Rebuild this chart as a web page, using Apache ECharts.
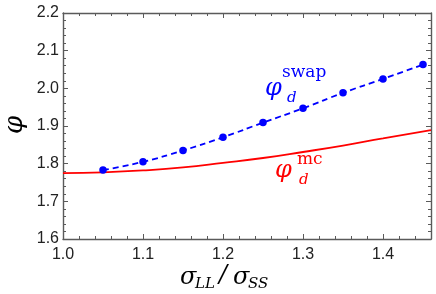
<!DOCTYPE html>
<html><head><meta charset="utf-8">
<script src="https://cdn.jsdelivr.net/npm/echarts@6/dist/echarts.min.js"></script>
<style>html,body{margin:0;padding:0;background:#fff}#c{width:436px;height:294px}</style>
</head><body><div id="c"></div>
<script>
const swapX = [1.05, 1.10, 1.15, 1.20, 1.25, 1.30, 1.35, 1.40, 1.45];
const swapY = [1.783, 1.805, 1.835, 1.870, 1.909, 1.947, 1.988, 2.025, 2.063];
const mcX = [1.00, 1.05, 1.10, 1.15, 1.20, 1.25, 1.30, 1.35, 1.40, 1.46];
const mcY = [1.775, 1.777, 1.782, 1.790, 1.802, 1.815, 1.831, 1.848, 1.867, 1.889];
const xTicks = [1.0, 1.1, 1.2, 1.3, 1.4];
const yTicks = [1.6, 1.7, 1.8, 1.9, 2.0, 2.1, 2.2];

const chart = echarts.init(document.getElementById('c'));
const axisCol = '#5a5a5a';
const serif = '"DejaVu Serif", "Liberation Serif", serif';
function xAxisCfg(show, pos) {
  return {
    type: 'value', min: 1.0, max: 1.46, interval: 0.1, position: pos,
    axisLine: {show: true, onZero: false, lineStyle: {color: axisCol, width: 1.4}},
    axisTick: {show: true, inside: true, length: 5, lineStyle: {color: axisCol}},
    minorTick: {show: true, splitNumber: 5, length: 3, lineStyle: {color: axisCol}},
    axisLabel: {show: show, color: '#222', fontSize: 16, fontFamily: 'Liberation Sans, Arial', margin: 8,
      formatter: v => v.toFixed(1), showMaxLabel: false},
    splitLine: {show: false}
  };
}
function yAxisCfg(show, pos) {
  return {
    type: 'value', min: 1.6, max: 2.2, interval: 0.1, position: pos,
    axisLine: {show: true, onZero: false, lineStyle: {color: axisCol, width: 1.4}},
    axisTick: {show: true, inside: true, length: 5, lineStyle: {color: axisCol}},
    minorTick: {show: true, splitNumber: 5, length: 3, lineStyle: {color: axisCol}},
    axisLabel: {show: show, color: '#222', fontSize: 16, fontFamily: 'Liberation Sans, Arial', margin: 4,
      formatter: v => v.toFixed(1)},
    splitLine: {show: false}
  };
}
const g = [];
function t(x, y, text, size, color, style) {
  g.push({type: 'text', x: x, y: y, style: {text: text, fill: color,
    font: (style || 'italic') + ' ' + size + 'px ' + serif, verticalAlign: 'middle', align: 'left'}});
}
// axis title sigma_LL / sigma_SS
t(180, 278, 'σ', 24, '#000');
t(195, 284, 'LL', 15, '#000');
t(219, 276, '/', 24, '#000');
t(233, 278, 'σ', 24, '#000');
t(248, 284, 'SS', 15, '#000');
// y-axis title
g.push({type: 'text', x: 15, y: 125, rotation: Math.PI / 2, style: {text: 'φ', fill: '#000',
  font: 'italic 26px ' + serif, align: 'center', verticalAlign: 'middle'}});
// series labels
t(265, 89, 'φ', 24, '#0000ff');
t(287, 98, 'd', 15, '#0000ff');
t(282, 73, 'swap', 17, '#0000ff', 'normal');
t(275, 171, 'φ', 24, '#ff0000');
t(299, 180, 'd', 15, '#ff0000');
t(297, 160, 'mc', 17, '#ff0000', 'normal');

chart.setOption({
  animation: false,
  grid: {left: 63, right: 5, top: 13, bottom: 55, containLabel: false},
  xAxis: [xAxisCfg(true, 'bottom'), xAxisCfg(false, 'top')],
  yAxis: [yAxisCfg(true, 'left'), yAxisCfg(false, 'right')],
  graphic: g,
  series: [
    {type: 'line', data: mcX.map((x, i) => [x, mcY[i]]), smooth: true, showSymbol: false,
      lineStyle: {color: '#ff0000', width: 1.8}, z: 2},
    {type: 'line', data: swapX.map((x, i) => [x, swapY[i]]), smooth: true, symbol: 'circle', symbolSize: 7.5,
      itemStyle: {color: '#0000ff'}, lineStyle: {color: '#0000ff', width: 1.8, type: [6, 4]}, z: 3}
  ]
});
</script>
</body></html>
